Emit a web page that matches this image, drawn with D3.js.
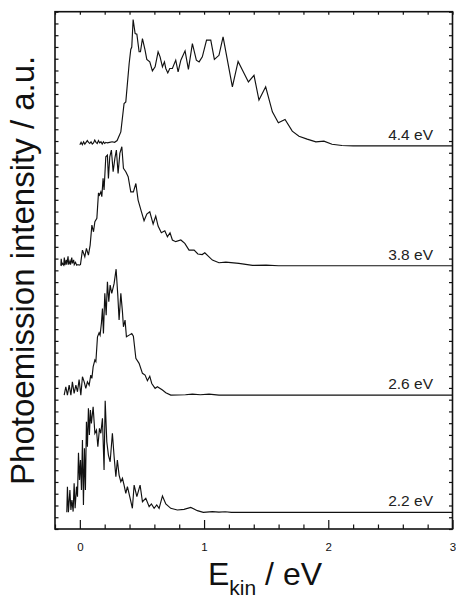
<!DOCTYPE html>
<html>
<head>
<meta charset="utf-8">
<script src="https://cdn.jsdelivr.net/npm/d3@7"></script>
<style>
  html, body { margin: 0; padding: 0; background: #fff; }
  svg { display: block; font-family: "Liberation Sans", Arial, Helvetica, sans-serif; }
</style>
</head>
<body>
<svg id="chart" width="456" height="602"></svg>
<script>
// photon energies of the four spectra (labels) and their vertical offsets (a.u.)
const photonLabels = ["2.2 eV", "2.6 eV", "3.8 eV", "4.4 eV"];
const offsets = [1.42, 11.39, 22.39, 32.59];

// spectra: [E_kin (eV), intensity above own baseline (a.u.)]
const spec22 = [
  [-0.105,0],[-0.1,2.18],[-0.092,0],[-0.08,1.9],[-0.072,0.2],[-0.064,1.05],[-0.054,0.06],
  [-0.046,2.47],[-0.038,0.34],[-0.027,2.18],[-0.019,1.33],[-0.011,5.07],[-0.003,2.75],
  [0.005,4.45],[0.013,1.9],[0.021,6.15],[0.029,0.62],[0.037,5.44],[0.045,1.9],[0.053,7.7],
  [0.061,5.58],[0.069,8.84],[0.077,6.58],[0.085,8.7],[0.093,7.56],[0.107,8.98],[0.121,6.72],
  [0.134,7.0],[0.145,5.58],[0.158,7.14],[0.169,6.72],[0.182,7.99],[0.195,3.6],[0.204,9.49],
  [0.217,6.0],[0.23,4.87],[0.244,4.3],[0.262,6.72],[0.276,4.73],[0.29,3.03],[0.302,4.45],
  [0.316,3.17],[0.33,2.6],[0.343,2.89],[0.356,2.32],[0.37,1.62],[0.383,2.18],[0.405,1.19],
  [0.423,0.34],[0.437,2.32],[0.459,1.33],[0.485,2.32],[0.504,0.9],[0.531,1.19],[0.558,0.48],
  [0.576,0.71],[0.598,0.34],[0.619,0.62],[0.638,0.34],[0.665,1.39],[0.692,0.71],[0.732,0.34],
  [0.785,0.2],[0.839,0.25],[0.893,0.42],[0.946,0.14],[0.994,0],[1.067,0.06],[1.12,0.02],
  [1.17,0.05],[1.22,0],[3.0,0]
];
const spec26 = [
  [-0.126,0],[-0.113,0.71],[-0.1,0],[-0.086,0.85],[-0.072,0],[-0.06,1.13],[-0.046,0.14],
  [-0.032,0.85],[-0.019,0.28],[-0.006,1.33],[0.008,0],[0.021,1.56],[0.035,1.13],[0.048,0.57],
  [0.061,1.13],[0.075,0.85],[0.088,1.7],[0.097,1.42],[0.107,2.4],[0.121,2.98],[0.129,2.84],
  [0.142,4.96],[0.155,5.3],[0.163,5.1],[0.174,6.15],[0.182,7.37],[0.19,5.24],[0.201,8.65],
  [0.212,6.8],[0.222,9.64],[0.233,7.94],[0.244,9.35],[0.257,8.65],[0.276,9.5],[0.292,10.71],
  [0.306,8.42],[0.316,6.38],[0.33,8.65],[0.343,7.08],[0.351,5.81],[0.364,6.38],[0.375,4.96],
  [0.397,5.1],[0.418,5.24],[0.431,5.0],[0.451,3.12],[0.477,2.7],[0.504,1.85],[0.525,1.7],
  [0.544,1.22],[0.563,1.6],[0.579,0.99],[0.606,0.57],[0.624,0.71],[0.665,0.43],[0.692,0.2],
  [0.732,0],[0.85,0.03],[0.906,0.08],[0.97,0.03],[1.04,0.08],[1.12,0],[3.0,0]
];
const spec38 = [
  [-0.153,0],[-0.15,0.6],[-0.145,0.1],[-0.14,0.2],[-0.13,0.05],[-0.125,0.7],[-0.12,0.05],
  [-0.11,0.5],[-0.105,0.1],[-0.095,0.8],[-0.09,0.1],[-0.08,0.4],[-0.075,0.1],[-0.065,0.7],
  [-0.06,0.2],[-0.05,0.5],[-0.045,0.1],[-0.035,0.3],[-0.025,0.05],[-0.015,0.1],[-0.006,0.05],
  [0.005,0.1],[0.021,1.33],[0.04,0.77],[0.053,1.48],[0.069,0.91],[0.083,1.76],[0.097,3.46],
  [0.11,2.89],[0.121,3.74],[0.137,4.03],[0.15,6.2],[0.158,6.01],[0.169,6.29],[0.177,5.87],
  [0.187,7.43],[0.195,6.44],[0.209,9.27],[0.222,9.41],[0.23,7.43],[0.241,9.27],[0.254,9.84],
  [0.268,8.0],[0.282,9.13],[0.294,9.84],[0.308,7.86],[0.322,9.56],[0.338,10.12],[0.351,8.28],
  [0.37,8.0],[0.389,7.57],[0.41,6.29],[0.431,6.29],[0.451,7.0],[0.469,5.59],[0.496,4.59],
  [0.517,3.83],[0.539,4.4],[0.563,4.59],[0.59,3.55],[0.611,4.23],[0.63,3.38],[0.656,2.81],
  [0.684,2.98],[0.705,2.47],[0.726,2.81],[0.745,2.19],[0.772,2.05],[0.813,2.19],[0.845,1.9],
  [0.879,1.33],[0.92,1.33],[0.95,1.0],[0.985,0.95],[1.006,1.1],[1.067,0.48],[1.12,0.26],
  [1.175,0.31],[1.28,0.2],[1.39,0.03],[1.5,0.05],[1.6,0],[3.0,0]
];
const spec44 = [
  [0.0,0.1],[0.01,0.3],[0.02,0.1],[0.03,0.35],[0.04,0.15],[0.05,0.3],[0.06,0.45],[0.07,0.3],
  [0.08,0.2],[0.09,0.35],[0.1,0.15],[0.11,0.25],[0.12,0.5],[0.13,0.3],[0.14,0.2],[0.15,0.45],
  [0.16,0.25],[0.17,0.35],[0.18,0.15],[0.19,0.35],[0.2,0.2],[0.21,0.3],[0.22,0.25],[0.24,0.3],
  [0.26,0.35],[0.28,0.3],[0.3,0.45],[0.33,1.19],[0.356,3.6],[0.37,3.74],[0.397,7.0],[0.41,8.2],
  [0.418,8.4],[0.429,10.75],[0.445,9.55],[0.459,9.5],[0.477,8.0],[0.488,8.0],[0.504,9.13],
  [0.525,8.14],[0.539,7.35],[0.563,7.14],[0.584,6.38],[0.606,6.72],[0.63,8.0],[0.646,7.57],
  [0.665,6.72],[0.681,7.14],[0.692,6.58],[0.708,6.2],[0.724,6.58],[0.745,6.58],[0.772,7.29],
  [0.791,6.29],[0.813,7.29],[0.847,8.08],[0.874,6.5],[0.906,8.7],[0.938,7.29],[0.96,7.14],
  [0.986,7.57],[1.02,8.99],[1.054,8.99],[1.083,7.35],[1.12,7.7],[1.153,9.27],[1.228,5.02],
  [1.274,7.18],[1.357,5.44],[1.402,6.0],[1.442,3.89],[1.496,5.02],[1.55,2.89],[1.598,1.96],
  [1.652,2.24],[1.71,1.25],[1.764,0.82],[1.83,0.57],[1.9,0.34],[1.965,0.4],[2.03,0.14],
  [2.11,0.03],[2.2,0],[3.0,0]
];
const spectra = [spec22, spec26, spec38, spec44];

const xMajor = [0, 1, 2, 3];
const xMinor = d3.range(-1, 16).map(i => +(i * 0.2).toFixed(1)).filter(v => !Number.isInteger(v));
const yTicks = d3.range(0, 45);

const W = 456, H = 602;
const mLeft = 55, mRight = 452.5, mTop = 11.7, mBottom = 529;

const x = d3.scaleLinear().domain([-0.2, 3]).range([mLeft, mRight]);
const y = d3.scaleLinear().domain([0, 44]).range([mBottom, mTop]);

const svg = d3.select("#chart");

// curves
const line = d3.line()
  .x(d => x(d[0]))
  .y(d => y(d[1]));

spectra.forEach((s, i) => {
  svg.append("path")
    .datum(s.map(d => [d[0], d[1] + offsets[i]]))
    .attr("fill", "none")
    .attr("stroke", "#111")
    .attr("stroke-width", 1.15)
    .attr("d", line);

  svg.append("text")
    .attr("x", 433)
    .attr("y", y(offsets[i]) - 6)
    .attr("text-anchor", "end")
    .attr("font-size", 15.5)
    .attr("fill", "#222")
    .text(photonLabels[i]);
});

// axes, ticks pointing inward
const axisStyle = g => {
  g.select(".domain").remove();
  g.selectAll("line").attr("stroke", "#111").attr("stroke-width", 1.2);
};

svg.append("g")
  .attr("transform", `translate(0,${mBottom})`)
  .call(d3.axisBottom(x).tickValues(xMajor).tickSize(-9).tickPadding(14).tickFormat(d3.format("d")))
  .call(axisStyle)
  .call(g => g.selectAll("text").attr("font-size", 11.5).attr("fill", "#111")
    .attr("font-family", "'Liberation Sans', Arial, sans-serif"));

svg.append("g")
  .attr("transform", `translate(0,${mBottom})`)
  .call(d3.axisBottom(x).tickValues(xMinor).tickSize(-4.5).tickFormat(""))
  .call(axisStyle);

svg.append("g")
  .attr("transform", `translate(0,${mTop})`)
  .call(d3.axisTop(x).tickValues(xMajor.concat(xMinor)).tickSize(-3).tickFormat(""))
  .call(axisStyle);

svg.append("g")
  .attr("transform", `translate(${mLeft},0)`)
  .call(d3.axisLeft(y).tickValues(yTicks).tickSize(-3.5).tickFormat(""))
  .call(axisStyle);

svg.append("g")
  .attr("transform", `translate(${mRight},0)`)
  .call(d3.axisRight(y).tickValues(yTicks).tickSize(-3.5).tickFormat(""))
  .call(axisStyle);

// frame
svg.append("rect")
  .attr("x", mLeft)
  .attr("y", mTop)
  .attr("width", mRight - mLeft)
  .attr("height", mBottom - mTop)
  .attr("fill", "none")
  .attr("stroke", "#111")
  .attr("stroke-width", 1.6);

// axis titles
svg.append("text")
  .attr("transform", `translate(34,${(mTop + mBottom) / 2}) rotate(-90)`)
  .attr("text-anchor", "middle")
  .attr("font-size", 33)
  .attr("fill", "#111")
  .text("Photoemission intensity / a.u.");

const xt = svg.append("text")
  .attr("x", 208)
  .attr("y", 585)
  .attr("font-size", 32)
  .attr("fill", "#111");
xt.append("tspan").text("E");
xt.append("tspan").attr("font-size", 21).attr("dy", 10).text("kin");
xt.append("tspan").attr("dy", -10).text(" / eV");
</script>
</body>
</html>
